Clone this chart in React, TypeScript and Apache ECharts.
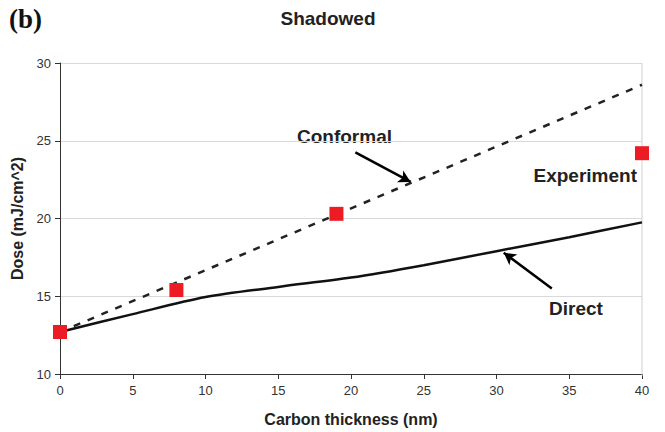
import React, { useEffect, useRef } from "react";
import * as echarts from "echarts";

const expX = [0, 8, 19, 40];
const expY = [12.7, 15.4, 20.3, 24.2];
const conformalX = [0, 40];
const conformalY = [12.7, 28.6];
const directX = [0, 5, 10, 15, 20, 25, 30, 35, 40];
const directY = [12.7, 13.85, 14.95, 15.6, 16.2, 17.0, 17.9, 18.8, 19.75];
const xTicks = [0, 5, 10, 15, 20, 25, 30, 35, 40];
const yTicks = [10, 15, 20, 25, 30];

const FONT = "Liberation Sans, Arial, sans-serif";

export default function App() {
  const ref = useRef<HTMLDivElement>(null);
  useEffect(() => {
    if (!ref.current) return;
    const chart = echarts.init(ref.current, null, { renderer: "svg" });
    chart.setOption({
      animation: false,
      backgroundColor: "#fff",
      graphic: [
        {
          type: "text",
          left: 9,
          top: 5,
          style: { text: "(b)", font: "bold 27px 'Liberation Serif', 'Times New Roman', serif", fill: "#111" },
        },
        {
          type: "text",
          x: 328,
          y: 9,
          style: { text: "Shadowed", textAlign: "center", font: "bold 19px 'Liberation Sans', Arial, sans-serif", fill: "#222" },
        },
        {
          type: "line",
          shape: { x1: 642, y1: 63, x2: 642, y2: 376 },
          style: { stroke: "#d0d0d0", lineWidth: 1 },
          z: 1,
        },
        {
          type: "text",
          x: 297,
          y: 127,
          style: { text: "Conformal", font: "bold 19px 'Liberation Sans', Arial, sans-serif", fill: "#222" },
        },
        {
          type: "text",
          x: 637,
          y: 166,
          style: { text: "Experiment", textAlign: "right", font: "bold 19px 'Liberation Sans', Arial, sans-serif", fill: "#222" },
        },
        {
          type: "text",
          x: 549,
          y: 299,
          style: { text: "Direct", font: "bold 19px 'Liberation Sans', Arial, sans-serif", fill: "#222" },
        },
      ],
      grid: { left: 60, right: 23, top: 63, bottom: 56 },
      xAxis: {
        type: "value",
        min: xTicks[0],
        max: xTicks[xTicks.length - 1],
        interval: 5,
        name: "Carbon thickness (nm)",
        nameLocation: "middle",
        nameGap: 37,
        nameTextStyle: { fontFamily: FONT, fontWeight: "bold", fontSize: 16, color: "#222" },
        axisLine: { show: true, lineStyle: { color: "#333", width: 1 } },
        axisTick: { show: true, length: 5, lineStyle: { color: "#333" } },
        axisLabel: { fontFamily: FONT, fontSize: 13, color: "#333", margin: 10 },
        splitLine: { show: false },
      },
      yAxis: {
        type: "value",
        min: yTicks[0],
        max: yTicks[yTicks.length - 1],
        interval: 5,
        name: "Dose (mJ/cm^2)",
        nameLocation: "middle",
        nameGap: 33,
        nameTextStyle: { fontFamily: FONT, fontWeight: "bold", fontSize: 16, color: "#222" },
        axisLine: { show: true, lineStyle: { color: "#333", width: 1 } },
        axisTick: { show: true, length: 5, lineStyle: { color: "#333" } },
        axisLabel: { fontFamily: FONT, fontSize: 13, color: "#333", margin: 9 },
        splitLine: { show: true, lineStyle: { color: "#d9d9d9", width: 1 } },
      },
      series: [
        {
          name: "Conformal",
          type: "line",
          data: conformalX.map((x, i) => [x, conformalY[i]]),
          showSymbol: false,
          lineStyle: { color: "#222", width: 2.5, type: [7, 8] },
          z: 2,
          markLine: {
            silent: true,
            symbol: ["none", "arrow"],
            symbolSize: [10, 12],
            label: { show: false },
            lineStyle: { color: "#000", width: 2.5, type: "solid" },
            data: [
              [
                { coord: [20.3, 24.25] },
                { coord: [24.1, 22.35] },
              ],
              [
                { coord: [33.8, 15.5] },
                { coord: [30.5, 17.8] },
              ],
            ],
          },
        },
        {
          name: "Direct",
          type: "line",
          data: directX.map((x, i) => [x, directY[i]]),
          smooth: 0.3,
          showSymbol: false,
          lineStyle: { color: "#111", width: 2.5 },
          z: 2,
        },
        {
          name: "Experiment",
          type: "scatter",
          data: expX.map((x, i) => [x, expY[i]]),
          symbol: "rect",
          symbolSize: 14,
          itemStyle: { color: "#ED1C24", opacity: 1 },
          z: 5,
        },
      ],
    });
    return () => chart.dispose();
  }, []);
  return <div ref={ref} style={{ width: 665, height: 432, position: "absolute", left: 0, top: 0 }} />;
}
